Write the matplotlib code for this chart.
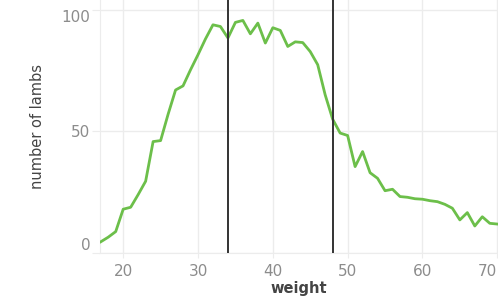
import matplotlib.pyplot as plt

weight = list(range(17, 71))
lambs = [4.6, 6.5, 8.8, 18, 18.8, 24, 29.5, 45.8, 46.2, 57,
         67, 68.7, 75.3, 81.5, 88, 93.8, 93.1, 88.4, 94.8, 95.6,
         90.1, 94.5, 86.3, 92.6, 91.5, 84.9, 86.8, 86.5, 82.8, 77.4,
         65, 55, 49.3, 48.3, 35.5, 41.7, 33, 30.7, 25.6, 26.2,
         23.2, 22.9, 22.3, 22.1, 21.5, 21.1, 20, 18.4, 13.6, 16.6,
         11.1, 14.9, 12.2, 11.9]
cutoffs = [34, 48]
xticks = [20, 30, 40, 50, 60, 70]
yticks = [0, 50, 100]

grid = "#ececec"

fig = plt.figure(figsize=(4.98, 3.08), dpi=100)
ax = fig.add_axes([0.2008, 0.1786, 0.7992, 0.8214])

ax.plot(weight, lambs, color="#6cbf4a", linewidth=2, zorder=3)
for c in cutoffs:
    ax.axvline(c, color="#333333", linewidth=1.4, zorder=4)

ax.set_xlim(16.9, 70.1)
ax.set_ylim(0, 104)
ax.set_xticks(xticks)
ax.set_yticks(yticks)
ax.grid(True, color=grid, linewidth=1)
ax.set_axisbelow(True)

for s in ["top", "right"]:
    ax.spines[s].set_visible(False)
for s in ["left", "bottom"]:
    ax.spines[s].set_color(grid)

ax.tick_params(axis="y", length=6, color=grid, pad=1, labelsize=11, labelcolor="#8c8c8c")
ax.tick_params(axis="x", length=3.6, color=grid, pad=4, labelsize=11, labelcolor="#8c8c8c")

# Tableau keeps edge labels inside the pane
yt = ax.yaxis.get_major_ticks()
yt[0].label1.set_va("bottom")
yt[-1].label1.set_va("top")
ax.xaxis.get_major_ticks()[-1].label1.set_ha("right")

ax.set_ylabel("number of lambs", fontsize=10.5, color="#444444", labelpad=12)
ax.set_xlabel("weight", fontsize=10.5, color="#444444", fontweight="bold", labelpad=2)

plt.savefig("out.png", dpi=100)
